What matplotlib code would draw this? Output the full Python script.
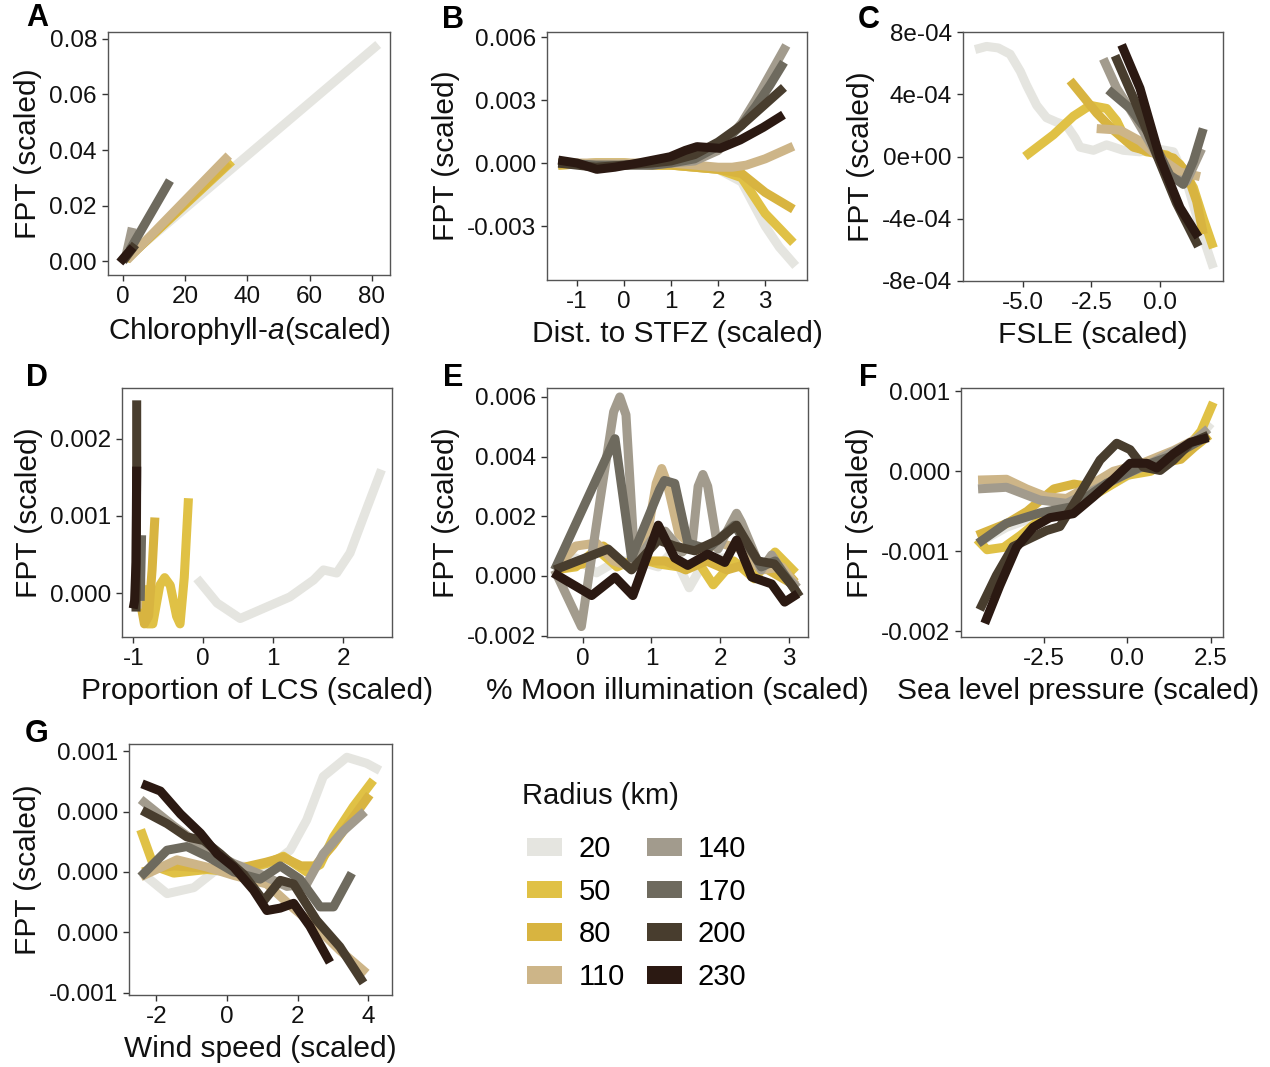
import matplotlib
matplotlib.use("Agg")
import matplotlib.pyplot as plt
from matplotlib.patches import Patch
from matplotlib.ticker import FixedLocator, FixedFormatter

plt.rcParams['font.family'] = ['Liberation Sans', 'DejaVu Sans']
plt.rcParams['mathtext.fontset'] = 'custom'
plt.rcParams['mathtext.rm'] = 'Liberation Sans'
plt.rcParams['mathtext.it'] = 'Liberation Sans:italic'
plt.rcParams['axes.unicode_minus'] = False

radii = [20, 50, 80, 110, 140, 170, 200, 230]
colors = ['#e5e5e0', '#e0c145', '#d8b440', '#cdb588', '#a29b8d', '#6e6a5e', '#483d2e', '#2b1912']

# ---------------- Panel A: Chlorophyll-a ----------------
A_x = {20: [0, 82], 50: [1, 35], 80: [1, 34], 110: [1.3, 34],
       140: [1, 3], 170: [2.2, 15.1], 200: [0, 4], 230: [-1, 3.2]}
A_y = {20: [0, 0.078], 50: [0.0005, 0.036], 80: [0.0005, 0.0355], 110: [0.0004, 0.038],
       140: [0.002, 0.012], 170: [0.004, 0.029], 200: [0.0, 0.006], 230: [-0.0005, 0.005]}

# ---------------- Panel B: Dist. to STFZ ----------------
B_x = {20: [-1.4, -0.6, 0, 0.6, 1.0, 1.5, 2.0, 2.5, 3.0, 3.3, 3.65],
       50: [-1.4, -0.6, 0, 0.6, 1.0, 1.5, 2.0, 2.5, 3.0, 3.3, 3.6],
       80: [-1.4, -0.6, 0, 0.6, 1.0, 1.5, 2.0, 2.5, 3.0, 3.3, 3.6],
       110: [-1.4, -0.6, 0, 0.6, 1.0, 1.5, 2.0, 2.3, 2.6, 3.0, 3.3, 3.6],
       140: [-1.4, -0.6, 0, 0.6, 1.0, 1.5, 2.0, 2.5, 2.8, 3.1, 3.45],
       170: [-1.4, -0.6, 0, 0.6, 1.0, 1.5, 2.0, 2.5, 2.8, 3.1, 3.4],
       200: [-1.4, -0.6, 0, 0.6, 1.0, 1.5, 2.0, 2.5, 2.8, 3.1, 3.4],
       230: [-1.4, -1.0, -0.58, -0.2, 0.3, 0.98, 1.3, 1.55, 2.04, 2.47, 2.96, 3.39]}
B_y = {20: [-0.0001, 0, 0, -0.0001, -0.0001, -0.0002, -0.0003, -0.0009, -0.0030, -0.0040, -0.0049],
       50: [-0.0001, 0, 0, -0.0001, -0.0001, -0.0002, -0.0003, -0.0007, -0.0024, -0.0031, -0.0038],
       80: [-0.0001, 0, 0, -0.0001, -0.0001, -0.0002, -0.0003, -0.0005, -0.0014, -0.0018, -0.0022],
       110: [0, 0, 0, 0, 0, -0.0001, -0.0002, -0.0002, -0.0001, 0.0002, 0.0005, 0.0008],
       140: [0, -0.0001, -0.0001, -0.0001, 0, 0.0001, 0.0006, 0.0019, 0.0030, 0.0042, 0.0056],
       170: [0, -0.0001, -0.0001, -0.0001, 0, 0.0002, 0.0008, 0.0018, 0.0027, 0.0037, 0.0048],
       200: [0, -0.0002, -0.0001, 0, 0.0001, 0.0004, 0.0010, 0.0018, 0.0024, 0.0030, 0.0036],
       230: [0.00014, 0, -0.0003, -0.0002, 0, 0.0003, 0.0006, 0.00078, 0.0007, 0.0011, 0.0017, 0.0023]}

# ---------------- Panel C: FSLE ----------------
C_x = {20: [-6.75, -6.33, -5.9, -5.47, -5.1, -4.87, -4.5, -4.14, -3.75, -3.41, -3.1, -2.92, -2.43, -1.95, -1.34, -0.73, -0.12, 0.49, 0.97, 1.46, 1.95],
       50: [-4.93, -3.89, -3.16, -2.55, -1.95, -1.58, -1.22, -0.49, 0.24, 0.73, 1.22, 1.58, 1.95],
       80: [-3.28, -2.31, -1.70, -0.97, -0.12, 0.49, 0.97, 1.34, 1.58],
       110: [-2.31, -1.46, -0.73, 0, 0.73, 1.46],
       140: [-2.07, -1.58, -0.97, -0.24, 0.36, 0.97, 1.52],
       170: [-1.89, -1.09, -0.36, 0.36, 0.85, 1.22, 1.58],
       200: [-1.64, -0.9, -0.12, 0.6, 1.40],
       230: [-1.40, -0.73, 0, 0.73, 1.40]}
C_y = {20: [6.9e-4, 7.1e-4, 7.0e-4, 6.6e-4, 5.5e-4, 4.6e-4, 3.3e-4, 2.5e-4, 2.2e-4, 2.0e-4, 1.2e-4, 0.6e-4, 0.4e-4, 0.75e-4, 0.4e-4, 0.3e-4, 0.5e-4, 0.3e-4, -1.6e-4, -4.6e-4, -7.2e-4],
       50: [0, 1.4e-4, 2.6e-4, 3.3e-4, 3.1e-4, 2.3e-4, 1.0e-4, 0.3e-4, 0.1e-4, -0.5e-4, -2.0e-4, -4.0e-4, -5.9e-4],
       80: [4.9e-4, 2.8e-4, 1.7e-4, 0.6e-4, 0.2e-4, -0.1e-4, -1.0e-4, -2.9e-4, -5.0e-4],
       110: [1.8e-4, 1.7e-4, 1.0e-4, -0.1e-4, -1.0e-4, -1.3e-4],
       140: [6.3e-4, 4.4e-4, 2.7e-4, 0.5e-4, -1.4e-4, -1.6e-4, 0.5e-4],
       170: [4.3e-4, 3.1e-4, 1.4e-4, -1.2e-4, -1.8e-4, -0.3e-4, 1.8e-4],
       200: [6.5e-4, 3.5e-4, 0.1e-4, -3.0e-4, -5.8e-4],
       230: [7.2e-4, 4.4e-4, -0.1e-4, -3.3e-4, -5.2e-4]}

# ---------------- Panel D: Proportion of LCS ----------------
D_x = {20: [-0.09, 0.2, 0.53, 0.91, 1.24, 1.58, 1.72, 1.91, 2.10, 2.34, 2.55],
       50: [-0.85, -0.80, -0.72, -0.62, -0.55, -0.47, -0.38, -0.33, -0.27, -0.21],
       80: [-0.90, -0.88, -0.84, -0.78, -0.73, -0.69],
       110: [-0.94, -0.93, -0.92],
       140: [-0.92, -0.915, -0.91],
       170: [-0.90, -0.89, -0.88],
       200: [-0.96, -0.955, -0.95, -0.95],
       230: [-1.0, -0.98, -0.96, -0.955, -0.95]}
D_y = {20: [0.00019, -0.00013, -0.00033, -0.00018, -0.00005, 0.00017, 0.0003, 0.00026, 0.00052, 0.0011, 0.0016],
       50: [0.0001, -0.0004, -0.0004, 0.0001, 0.0002, 0.0001, -0.0003, -0.0004, 0.0002, 0.00123],
       80: [0.0003, -0.0002, -0.0004, -0.0003, 0.0003, 0.00098],
       110: [-0.0002, 0.0, 0.0002],
       140: [-0.0001, 0.0001, 0.0003],
       170: [-0.0001, 0.0003, 0.00075],
       200: [-0.00024, 0.0005, 0.0015, 0.0025],
       230: [-0.0002, -0.0001, 0.0004, 0.001, 0.00164]}

# ---------------- Panel E: % Moon illumination ----------------
E_x = {20: [-0.41, -0.1, 0.2, 0.5, 0.8, 1.1, 1.3, 1.55, 1.8, 2.1, 2.4, 2.7, 3.0],
       50: [-0.41, -0.1, 0.2, 0.5, 0.8, 1.1, 1.4, 1.7, 1.9, 2.2, 2.5, 2.8, 3.1],
       80: [-0.41, 0, 0.3, 0.6, 0.9, 1.2, 1.5, 1.8, 2.1, 2.4, 2.7, 3.0, 3.1],
       110: [-0.41, -0.1, 0.2, 0.45, 0.7, 0.95, 1.07, 1.15, 1.23, 1.4, 1.7, 2.0, 2.3, 2.6, 2.9, 3.1],
       140: [-0.41, -0.02, 0.25, 0.45, 0.54, 0.63, 0.76, 1.0, 1.2, 1.45, 1.6, 1.68, 1.75, 1.82, 1.97, 2.17, 2.24, 2.31, 2.6, 2.75, 2.95, 3.13],
       170: [-0.41, 0.47, 0.71, 1.12, 1.19, 1.34, 1.53, 1.82, 2.21, 2.6, 2.8, 3.13],
       200: [-0.41, 0.37, 0.71, 1.1, 1.34, 1.63, 1.97, 2.24, 2.55, 2.79, 3.04, 3.16],
       230: [-0.43, 0.13, 0.47, 0.73, 1.10, 1.34, 1.53, 1.82, 2.07, 2.24, 2.46, 2.75, 2.94, 3.13]}
E_y = {20: [0.0002, 0.0006, 0.0001, 0.0005, 0.0005, 0.0003, 0.0008, -0.0004, 0.0006, 0.0006, 0.0002, 0.0002, -0.0002],
       50: [0.0002, 0.0003, 0.0009, 0.0003, 0.0006, 0.0004, 0.0003, 0.0004, -0.0003, 0.0005, -0.0001, 0.0008, 0.0001],
       80: [0.0002, 0.0004, 0.001, 0.0004, 0.0005, 0.0005, 0.0002, 0.0005, 0.0002, 0.0004, 0.0002, -0.0002, 0.0],
       110: [0.0002, 0.001, 0.0011, 0.0005, 0.0003, 0.0015, 0.0031, 0.0036, 0.0031, 0.0014, 0.0008, 0.0011, 0.0009, 0.0002, 0.0003, -0.0003],
       140: [0.0002, -0.0017, 0.0025, 0.0055, 0.006, 0.0054, 0.0004, 0.0012, 0.0015, 0.0008, 0.0012, 0.003, 0.0034, 0.003, 0.0009, 0.0018, 0.0021, 0.0018, 0.0002, 0.0007, 0.0, -0.0004],
       170: [0.0002, 0.0046, 0.0006, 0.0029, 0.0032, 0.0031, 0.0011, 0.0009, 0.0017, 0.0003, 0.0005, -0.0006],
       200: [0.0002, 0.0009, 0.0002, 0.0012, 0.001, 0.00084, 0.0012, 0.0017, 0.0005, 0.0004, -0.0003, -0.0007],
       230: [0.0001, -0.00066, -0.00004, -0.00066, 0.0017, 0.0006, 0.00035, 0.00073, 0.00045, 0.0012, -0.00004, -0.00027, -0.00088, -0.0006]}

# ---------------- Panel F: Sea level pressure ----------------
F_x = {20: [-4.47, -3.62, -2.62, -1.62, -0.62, 0.38, 1.38, 2.0, 2.5],
       50: [-4.5, -4.2, -3.7, -3.2, -2.6, -2.0, -1.0, 0, 0.7, 1.2, 1.8, 2.2, 2.57],
       80: [-4.5, -3.6, -3.0, -2.2, -1.6, -1.0, -0.3, 0.3, 1.0, 1.6, 2.0, 2.45],
       110: [-4.47, -3.62, -3.02, -2.42, -1.82, -1.22, -0.42, 0.38, 1.38, 2.37],
       140: [-4.47, -3.62, -2.62, -1.82, -1.02, -0.12, 0.6, 1.4, 2.0, 2.42],
       170: [-4.47, -3.62, -2.62, -1.62, -0.62, 0.38, 1.38, 2.37],
       200: [-4.42, -3.92, -3.42, -2.82, -2.42, -2.02, -1.42, -0.82, -0.32, 0.08, 0.48, 0.98, 1.38, 1.88, 2.42],
       230: [-4.27, -3.82, -3.32, -2.82, -2.32, -1.62, -1.02, -0.42, 0.08, 0.58, 0.88, 1.38, 1.88, 2.42]}
F_y = {20: [-0.0009, -0.0007, -0.00055, -0.00045, -0.0002, 0.00003, 0.0002, 0.00035, 0.0006],
       50: [-0.00085, -0.00098, -0.00095, -0.0008, -0.0006, -0.0005, -0.0003, -0.00005, 0.0, 0.00015, 0.0003, 0.0005, 0.00086],
       80: [-0.0008, -0.00065, -0.0005, -0.00022, -0.00016, -0.0002, -0.0001, 0.0001, 0.0001, 0.00015, 0.0003, 0.00045],
       110: [-0.00011, -0.0001, -0.00022, -0.00032, -0.00034, -0.0002, 0.0, 0.00009, 0.00026, 0.00047],
       140: [-0.00022, -0.0002, -0.00036, -0.0004, -0.00024, -0.00005, 0.00008, 0.00025, 0.00038, 0.00053],
       170: [-0.0009, -0.00065, -0.00052, -0.00044, -0.00015, 0.00005, 0.0002, 0.00043],
       200: [-0.00173, -0.0013, -0.00094, -0.00082, -0.00074, -0.00069, -0.00028, 0.00014, 0.00035, 0.00027, 0.00005, 0.00001, 0.00014, 0.00035, 0.00045],
       230: [-0.0019, -0.00143, -0.00095, -0.0007, -0.00058, -0.00053, -0.00032, -0.0001, 0.0001, 0.0001, 0.00004, 0.00022, 0.00036, 0.00042]}

# ---------------- Panel G: Wind speed ----------------
G_x = {20: [-2.41, -1.70, -0.94, -0.38, 0.38, 1.13, 1.79, 2.26, 2.73, 3.40, 3.96, 4.34],
       50: [-2.45, -2.08, -1.51, -0.57, 0.19, 1.13, 1.60, 2.26, 2.64, 3.02, 3.58, 4.15],
       80: [-2.4, -2.0, -1.5, -0.6, 0.2, 1.1, 1.6, 2.1, 2.5, 3.0, 3.5, 4.05],
       110: [-2.45, -1.42, -0.57, 0.2, 1.13, 1.88, 2.54, 3.2, 3.96],
       140: [-2.45, -1.51, -0.57, 0.19, 0.94, 1.70, 2.26, 2.73, 3.30, 3.91],
       170: [-2.45, -1.70, -1.14, -0.57, 0.19, 0.94, 1.51, 2.07, 2.64, 3.02, 3.54],
       200: [-2.41, -1.70, -1.14, -0.66, -0.19, 0.47, 1.04, 1.51, 1.89, 2.54, 3.2, 3.87],
       230: [-2.41, -1.89, -1.32, -0.75, -0.28, 0.19, 0.75, 1.13, 1.51, 1.89, 2.35, 2.92]}
G_y = {20: [-0.00001, -0.00018, -0.00013, 0.0, 0.00005, 0.00003, 0.00018, 0.00043, 0.00079, 0.00095, 0.0009, 0.00084],
       50: [0.00035, 0.00005, -0.00001, 0.00002, 0.0, 0.00007, 0.00013, 0.0, 0.00006, 0.00029, 0.00054, 0.00076],
       80: [0.0, 0.00003, 0.00005, 0.00003, 0.00002, 0.00008, 0.00012, 0.00005, 0.00005, 0.00022, 0.00042, 0.00064],
       110: [-0.00004, 0.0001, 0.00004, -0.00003, -0.0001, -0.0003, -0.00046, -0.00065, -0.00084],
       140: [0.0006, 0.00038, 0.00018, 0.00007, -0.00002, -0.00012, -0.0001, 0.00015, 0.00034, 0.0005],
       170: [-0.00004, 0.00018, 0.00021, 0.00013, 0.0, -0.00006, 0.00005, -0.00006, -0.00029, -0.00029, -0.00001],
       200: [0.00051, 0.0004, 0.00029, 0.00026, 0.00015, -0.00002, -0.00024, -0.00007, -0.0001, -0.0004, -0.00062, -0.00092],
       230: [0.00073, 0.00067, 0.00048, 0.00032, 0.00015, 0.00004, -0.00015, -0.00032, -0.0003, -0.00026, -0.00045, -0.00075]}

# tick definitions
A_xt, A_yt = [0, 20, 40, 60, 80], [0, 0.02, 0.04, 0.06, 0.08]
A_ytl = ['0.00', '0.02', '0.04', '0.06', '0.08']
B_xt, B_yt = [-1, 0, 1, 2, 3], [-0.003, 0, 0.003, 0.006]
B_ytl = ['-0.003', '0.000', '0.003', '0.006']
C_xt, C_yt = [-5.0, -2.5, 0.0], [-8e-4, -4e-4, 0, 4e-4, 8e-4]
C_xtl = ['-5.0', '-2.5', '0.0']
C_ytl = ['-8e-04', '-4e-04', '0e+00', '4e-04', '8e-04']
D_xt, D_yt = [-1, 0, 1, 2], [0, 0.001, 0.002]
D_ytl = ['0.000', '0.001', '0.002']
E_xt, E_yt = [0, 1, 2, 3], [-0.002, 0, 0.002, 0.004, 0.006]
E_ytl = ['-0.002', '0.000', '0.002', '0.004', '0.006']
F_xt, F_yt = [-2.5, 0.0, 2.5], [-0.002, -0.001, 0, 0.001]
F_xtl = ['-2.5', '0.0', '2.5']
F_ytl = ['-0.002', '-0.001', '0.000', '0.001']
G_xt, G_yt = [-2, 0, 2, 4], [-0.001, -0.0005, 0, 0.0005, 0.001]
G_ytl = ['-0.001', '0.000', '0.000', '0.000', '0.001']

W, H = 1270, 1067
fig = plt.figure(figsize=(12.7, 10.67), dpi=100)


def box(l, r, t, b):
    return [l / W, 1 - b / H, (r - l) / W, (b - t) / H]


panels = [
    ('A', box(108, 390, 32, 275), A_x, A_y, (-4.8, 85.8), (-0.005, 0.0825), A_xt, None, A_yt, A_ytl,
     'Chlorophyll-$\\mathit{a}$(scaled)', (37, 18), 0.5),
    ('B', box(547, 807, 32, 280), B_x, B_y, (-1.64, 3.89), (-0.00557, 0.00624), B_xt, None, B_yt, B_ytl,
     'Dist. to STFZ (scaled)', (453, 20), 0.5),
    ('C', box(963, 1223, 32, 281), C_x, C_y, (-7.19, 2.30), (-8.03e-4, 8.03e-4), C_xt, C_xtl, C_yt, C_ytl,
     'FSLE (scaled)', (869, 20), 0.5),
    ('D', box(122, 392, 388, 637), D_x, D_y, (-1.16, 2.70), (-0.00057, 0.00266), D_xt, None, D_yt, D_ytl,
     'Proportion of LCS (scaled)', (37, 378), 0.5),
    ('E', box(547, 808, 388, 637), E_x, E_y, (-0.52, 3.28), (-0.00205, 0.0063), E_xt, None, E_yt, E_ytl,
     '% Moon illumination (scaled)', (453, 378), 0.5),
    ('F', box(961, 1223, 388, 637), F_x, F_y, (-4.98, 2.86), (-0.00207, 0.00104), F_xt, F_xtl, F_yt, F_ytl,
     'Sea level pressure (scaled)', (868, 378), 0.447),
    ('G', box(129, 392, 744, 995), G_x, G_y, (-2.78, 4.68), (-0.00102, 0.00106), G_xt, None, G_yt, G_ytl,
     'Wind speed (scaled)', (37, 734), 0.5),
]

for (lab, rect, px, py, xl, yl, xt, xtl, yt, ytl, xlabel, lpos, xlab_x) in panels:
    ax = fig.add_axes(rect)
    for r, c in zip(radii, colors):
        ax.plot(px[r], py[r], color=c, lw=6.5, solid_capstyle='butt', solid_joinstyle='round')
    ax.set_xlim(*xl)
    ax.set_ylim(*yl)
    ax.xaxis.set_major_locator(FixedLocator(xt))
    if xtl is not None:
        ax.xaxis.set_major_formatter(FixedFormatter(xtl))
    ax.yaxis.set_major_locator(FixedLocator(yt))
    ax.yaxis.set_major_formatter(FixedFormatter(ytl))
    ax.tick_params(labelsize=17.5, length=4, width=1, color='#333333', labelcolor='#111111', pad=4)
    for s in ax.spines.values():
        s.set_color('#555555')
        s.set_linewidth(1.0)
    ax.set_xlabel(xlabel, fontsize=21.5, labelpad=5, color='#111111')
    ax.xaxis.label.set_x(xlab_x)
    ax.set_ylabel('FPT (scaled)', fontsize=21.5, labelpad=5, color='#111111')
    fig.text(lpos[0] / W, 1 - lpos[1] / H, lab, fontsize=22, fontweight='bold', ha='center', va='center')

fig.text(522 / W, 1 - 796 / H, 'Radius (km)', fontsize=21, ha='left', va='center', color='#111111')
handles = [Patch(facecolor=c, edgecolor='none', label=str(r)) for r, c in zip(radii, colors)]
leg = fig.legend(handles=handles, ncol=2, loc='upper left',
                 bbox_to_anchor=(504 / W, 1 - 812 / H), frameon=False, fontsize=21,
                 handlelength=1.2, handleheight=0.55, handletextpad=0.55,
                 columnspacing=0.75, labelspacing=0.5, borderpad=0.3)

fig.savefig('out.png', dpi=100)
